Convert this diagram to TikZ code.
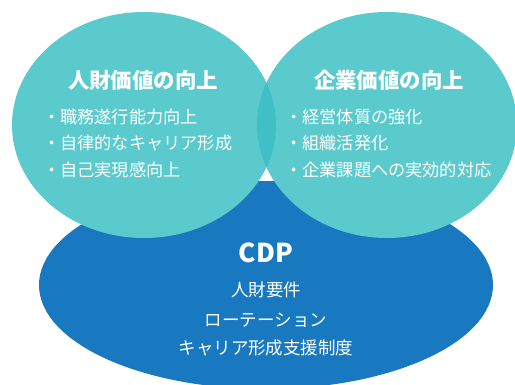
\documentclass[tikz,border=0pt]{standalone}
\usepackage{fontspec}
\setmainfont{Noto Sans CJK JP}
\definecolor{teal1}{RGB}{91,202,205}
\definecolor{lens1}{RGB}{64,192,198}
\definecolor{blue1}{RGB}{24,120,192}
\begin{document}
\begin{tikzpicture}[x=1pt,y=-1pt,
  title/.style={text=white,font=\fontsize{21.4}{24}\selectfont\bfseries,inner sep=0pt},
  item/.style={text=white,font=\fontsize{17.2}{20}\selectfont,inner sep=0pt,anchor=west},
  line/.style={text=white,font=\fontsize{17.5}{20}\selectfont,inner sep=0pt},
  big/.style={text=white,font=\fontsize{26}{30}\selectfont\bfseries,inner sep=0pt}]
\useasboundingbox (0,0) rectangle (515,384);
\fill[white] (0,0) rectangle (515,384);
% bottom ellipse
\fill[blue1] (266,285) ellipse [x radius=227, y radius=104];
% two circles
\fill[teal1] (144,125) ellipse [x radius=132, y radius=113];
\fill[teal1] (387,125) ellipse [x radius=130, y radius=113];
\begin{scope}
  \clip (144,125) ellipse [x radius=132, y radius=113];
  \fill[lens1] (387,125) ellipse [x radius=130, y radius=113];
\end{scope}
% left texts
\node[title] (lt) at (143,80) {人財価値の向上};
\node[item] (l1) at (43,117) {・職務遂行能力向上};
\node[item] (l2) at (43,143) {・自律的なキャリア形成};
\node[item] (l3) at (43,170) {・自己実現感向上};
% right texts
\node[title] (rt) at (389,80) {企業価値の向上};
\node[item] (r1) at (285,117) {・経営体質の強化};
\node[item] (r2) at (285,143) {・組織活発化};
\node[item] (r3) at (285,170) {・企業課題への実効的対応};
% bottom texts
\node[big] (cdp) at (266,253) {CDP};
\node[line] (b1) at (266,290) {人財要件};
\node[line] (b2) at (266,320) {ローテーション};
\node[line] (b3) at (266,348) {キャリア形成支援制度};
\end{tikzpicture}
\end{document}
